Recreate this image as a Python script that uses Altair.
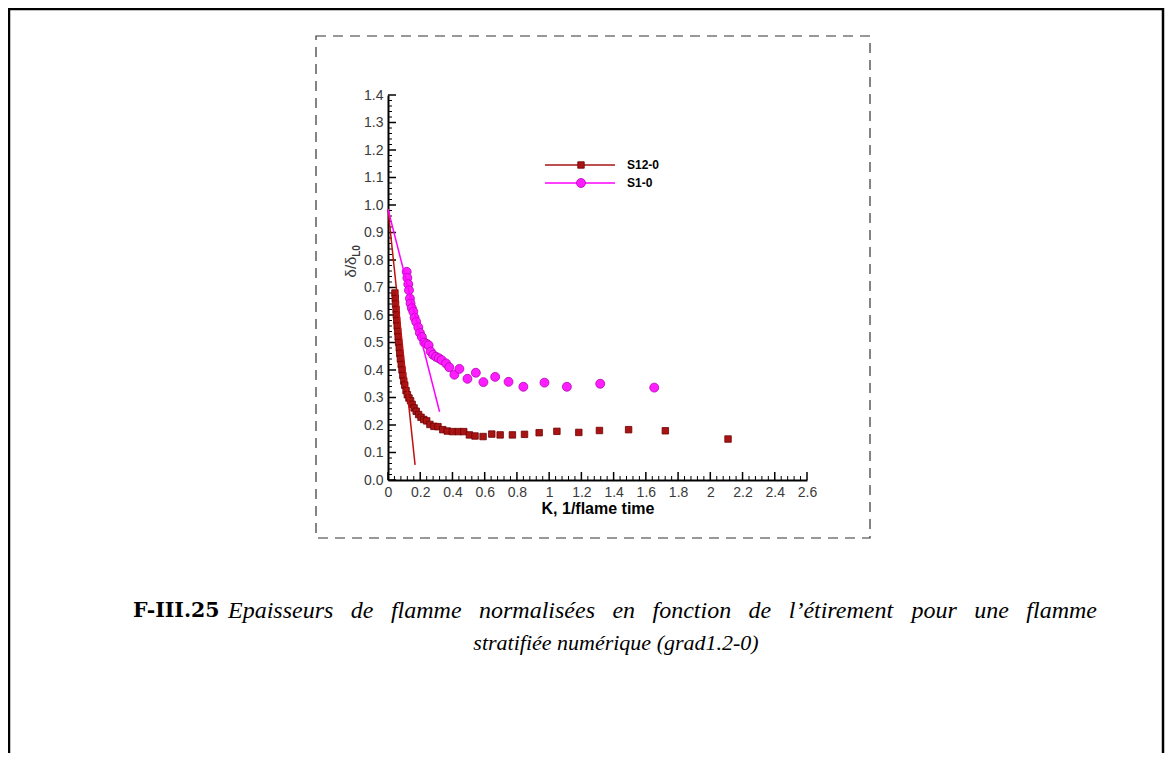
import altair as alt
import pandas as pd
import numpy as np

# ---- data ----
s12_K = [0.043, 0.045, 0.047, 0.05, 0.052, 0.054, 0.057, 0.06, 0.063, 0.066, 0.07, 0.073,
         0.077, 0.082, 0.087, 0.092, 0.098, 0.104, 0.112, 0.12, 0.13, 0.14, 0.15, 0.162,
         0.175, 0.19, 0.205, 0.222, 0.24, 0.26, 0.285, 0.31, 0.34, 0.368, 0.4, 0.437,
         0.47, 0.505, 0.54, 0.59, 0.644, 0.696, 0.772, 0.847, 0.938, 1.048, 1.184, 1.312,
         1.493, 1.721, 2.11]
s12_v = [0.68, 0.66, 0.64, 0.62, 0.60, 0.58, 0.56, 0.54, 0.52, 0.50, 0.48, 0.46,
         0.44, 0.42, 0.40, 0.38, 0.36, 0.345, 0.325, 0.31, 0.298, 0.288, 0.275, 0.262,
         0.25, 0.238, 0.228, 0.22, 0.215, 0.202, 0.195, 0.194, 0.183, 0.178, 0.176, 0.176,
         0.176, 0.164, 0.16, 0.158, 0.167, 0.164, 0.164, 0.166, 0.172, 0.177, 0.173, 0.18,
         0.183, 0.179, 0.149]

s1_K = [0.116, 0.12, 0.126, 0.13, 0.136, 0.14, 0.148, 0.157, 0.165, 0.175, 0.188, 0.198,
        0.21, 0.225, 0.24, 0.252, 0.265, 0.28, 0.298, 0.315, 0.333, 0.36, 0.38, 0.412,
        0.443, 0.493, 0.545, 0.592, 0.665, 0.748, 0.84, 0.971, 1.11, 1.317, 1.652]
s1_v = [0.757, 0.735, 0.712, 0.69, 0.66, 0.642, 0.625, 0.612, 0.59, 0.575, 0.555, 0.535,
        0.52, 0.50, 0.495, 0.49, 0.467, 0.455, 0.448, 0.443, 0.436, 0.424, 0.41, 0.383,
        0.404, 0.368, 0.39, 0.356, 0.375, 0.357, 0.339, 0.354, 0.339, 0.35, 0.336]

tan12_K = [0.0, 0.168]
tan12_v = [0.985, 0.055]
tan1_K = [0.0, 0.32]
tan1_v = [0.985, 0.248]

x_major = [0, 0.2, 0.4, 0.6, 0.8, 1, 1.2, 1.4, 1.6, 1.8, 2, 2.2, 2.4, 2.6]
y_major = [0.0, 0.1, 0.2, 0.3, 0.4, 0.5, 0.6, 0.7, 0.8, 0.9, 1.0, 1.1, 1.2, 1.3, 1.4]
x_minor = [round(v, 2) for v in np.arange(0, 2.6001, 0.04) if abs(round(v / 0.2, 3) % 1) > 1e-6]
y_minor = [round(v, 2) for v in np.arange(0, 1.4001, 0.02) if abs(round(v / 0.1, 3) % 1) > 1e-6]

caption_label = "F-III.25"
caption_line1 = "Epaisseurs de flamme normalisées en fonction de l’étirement pour une flamme"
caption_line2 = "stratifiée numérique (grad1.2-0)"

RED = "#a81414"
RED_EDGE = "#700000"
MAG = "#ff1eff"
MAG_EDGE = "#b400b4"

W, H = 419, 385
XMAX = 2.6
xs = alt.Scale(domain=[0, XMAX], nice=False, zero=False)
ys = alt.Scale(domain=[0, 1.4], nice=False, zero=False)

xaxis = alt.Axis(values=x_major, format="~g", ticks=False, grid=False, domainColor="black",
                 domainWidth=2, labelFont="Liberation Sans", labelFontSize=14,
                 labelColor="#3a3a3a", labelPadding=5, labelFlush=False, labelOverlap=False,
                 labelBound=False,
                 title="K, 1/flame time", titleFont="Liberation Sans", titleFontSize=16,
                 titleFontWeight="bold", titleColor="black", titlePadding=1)
yaxis = alt.Axis(values=y_major, format=".1f", ticks=False, grid=False, domainColor="black",
                 domainWidth=2, labelFont="Liberation Sans", labelFontSize=14,
                 labelColor="#3a3a3a", labelPadding=5, labelFlush=False, labelOverlap=False,
                 labelBound=False, title=None)

XE = alt.X("K:Q", scale=xs, axis=xaxis)
YE = alt.Y("v:Q", scale=ys, axis=yaxis)

df12 = pd.DataFrame({"K": s12_K, "v": s12_v})
df1 = pd.DataFrame({"K": s1_K, "v": s1_v})
dft12 = pd.DataFrame({"K": tan12_K, "v": tan12_v})
dft1 = pd.DataFrame({"K": tan1_K, "v": tan1_v})
one = alt.Data(values=[{"a": 1}])

pts12 = alt.Chart(df12).mark_point(shape="square", filled=True, size=42, fill=RED,
                                   stroke=RED_EDGE, strokeWidth=0.8, opacity=1).encode(x=XE, y=YE)
pts1 = alt.Chart(df1).mark_point(shape="circle", filled=True, size=80, fill=MAG,
                                 stroke=MAG_EDGE, strokeWidth=0.8, opacity=1).encode(x=XE, y=YE)
line12 = alt.Chart(dft12).mark_line(color="#c01010", strokeWidth=1.5).encode(x=XE, y=YE)
line1 = alt.Chart(dft1).mark_line(color="#ff00ff", strokeWidth=1.5).encode(x=XE, y=YE)

# inward ticks
xmaj = alt.Chart(pd.DataFrame({"K": x_major})).mark_rule(color="black", strokeWidth=1.5).encode(
    x=XE, y=alt.value(H), y2=alt.value(H - 8))
xmin = alt.Chart(pd.DataFrame({"K": x_minor})).mark_rule(color="black", strokeWidth=1).encode(
    x=XE, y=alt.value(H), y2=alt.value(H - 4))
ymaj = alt.Chart(pd.DataFrame({"v": y_major})).mark_rule(color="black", strokeWidth=1.5).encode(
    y=YE, x=alt.value(0), x2=alt.value(8))
ymin = alt.Chart(pd.DataFrame({"v": y_minor})).mark_rule(color="black", strokeWidth=1).encode(
    y=YE, x=alt.value(0), x2=alt.value(4))

# y title  δ/δ_L0
ytitle = alt.Chart(one).mark_text(text="δ/δ", angle=270, font="Liberation Sans", fontSize=15,
                                  color="#3a3a3a", align="center", baseline="middle").encode(
    x=alt.value(-37), y=alt.value(172))
ysub = alt.Chart(one).mark_text(text="L0", angle=270, font="Liberation Sans", fontSize=10,
                                fontWeight="bold", color="#3a3a3a", align="center",
                                baseline="middle").encode(
    x=alt.value(-31), y=alt.value(156))

# legend
leg_rule12 = alt.Chart(one).mark_rule(color=RED, strokeWidth=1.5).encode(
    x=alt.value(157), x2=alt.value(227), y=alt.value(70))
leg_rule1 = alt.Chart(one).mark_rule(color="#ff00ff", strokeWidth=1.5).encode(
    x=alt.value(157), x2=alt.value(227), y=alt.value(88))
leg_pt12 = alt.Chart(one).mark_point(shape="square", filled=True, size=42, fill=RED,
                                     stroke=RED_EDGE, strokeWidth=0.8, opacity=1).encode(
    x=alt.value(193), y=alt.value(70))
leg_pt1 = alt.Chart(one).mark_point(shape="circle", filled=True, size=80, fill=MAG,
                                    stroke=MAG_EDGE, strokeWidth=0.8, opacity=1).encode(
    x=alt.value(193), y=alt.value(88))
leg_t12 = alt.Chart(one).mark_text(text="S12-0", font="Liberation Sans", fontSize=12,
                                   fontWeight="bold", align="left", baseline="middle").encode(
    x=alt.value(239), y=alt.value(70))
leg_t1 = alt.Chart(one).mark_text(text="S1-0", font="Liberation Sans", fontSize=12,
                                  fontWeight="bold", align="left", baseline="middle").encode(
    x=alt.value(239), y=alt.value(88))

# dashed frame around figure
frame = alt.Chart(one).mark_rect(fillOpacity=0, stroke="#333333", strokeWidth=1.2,
                                 strokeDash=[10, 7]).encode(
    x=alt.value(-72), x2=alt.value(482), y=alt.value(-59), y2=alt.value(443))

# page border
border = alt.Chart(one).mark_rect(fillOpacity=0, stroke="black", strokeWidth=2.5).encode(
    x=alt.value(-379), x2=alt.value(775), y=alt.value(-86), y2=alt.value(720))

# caption (first line justified word by word, as in the typeset page)
CAP_FS1 = 24
CAP_FS2 = 22
TIMES_I = {"a": 500, "b": 500, "c": 444, "d": 500, "e": 444, "f": 278, "g": 500, "h": 500,
           "i": 278, "j": 278, "k": 444, "l": 278, "m": 722, "n": 500, "o": 500, "p": 500,
           "q": 500, "r": 389, "s": 389, "t": 278, "u": 500, "v": 444, "w": 667, "x": 444,
           "y": 444, "z": 389, "E": 611, "é": 444, "’": 333}
words = caption_line1.split(" ")
wwidth = [sum(TIMES_I.get(ch, 500) for ch in w) * CAP_FS1 / 1000 for w in words]
line_left, line_right = -160, 709
gap = (line_right - line_left - sum(wwidth)) / (len(words) - 1)
word_px = []
xcur = line_left
for w in wwidth:
    word_px.append(xcur)
    xcur += w + gap
# express pixel offsets in the shared x scale's units so no extra axis appears
cap_words = alt.Chart(pd.DataFrame({"w": words, "K": [p * XMAX / W for p in word_px]})).mark_text(
    font="Liberation Serif", fontSize=CAP_FS1, fontStyle="italic", align="left",
    baseline="middle", color="black").encode(text="w:N", x=XE, y=alt.value(516))

cap_b = alt.Chart(one).mark_text(text=caption_label, font="DejaVu Serif", fontSize=20.5,
                                 fontWeight="bold", align="left", baseline="middle",
                                 color="black").encode(x=alt.value(-255), y=alt.value(516))
cap_i2 = alt.Chart(one).mark_text(
    text=caption_line2,
    font="Liberation Serif", fontSize=CAP_FS2, fontStyle="italic", align="center",
    baseline="middle", color="black").encode(x=alt.value(228), y=alt.value(548))

chart = alt.layer(
    border, frame, xmin, xmaj, ymin, ymaj, pts12, pts1, line12, line1,
    ytitle, ysub, leg_rule12, leg_rule1, leg_pt12, leg_pt1, leg_t12, leg_t1,
    cap_b, cap_words, cap_i2,
).properties(
    width=W, height=H,
    background="white",
    autosize=alt.AutoSizeParams(type="none"),
    padding={"left": 380, "top": 87, "right": 1157 - 380 - W, "bottom": 745 - 87 - H},
).configure_view(stroke=None)

chart.save("out.html", embed_options={"renderer": "svg", "actions": False})
